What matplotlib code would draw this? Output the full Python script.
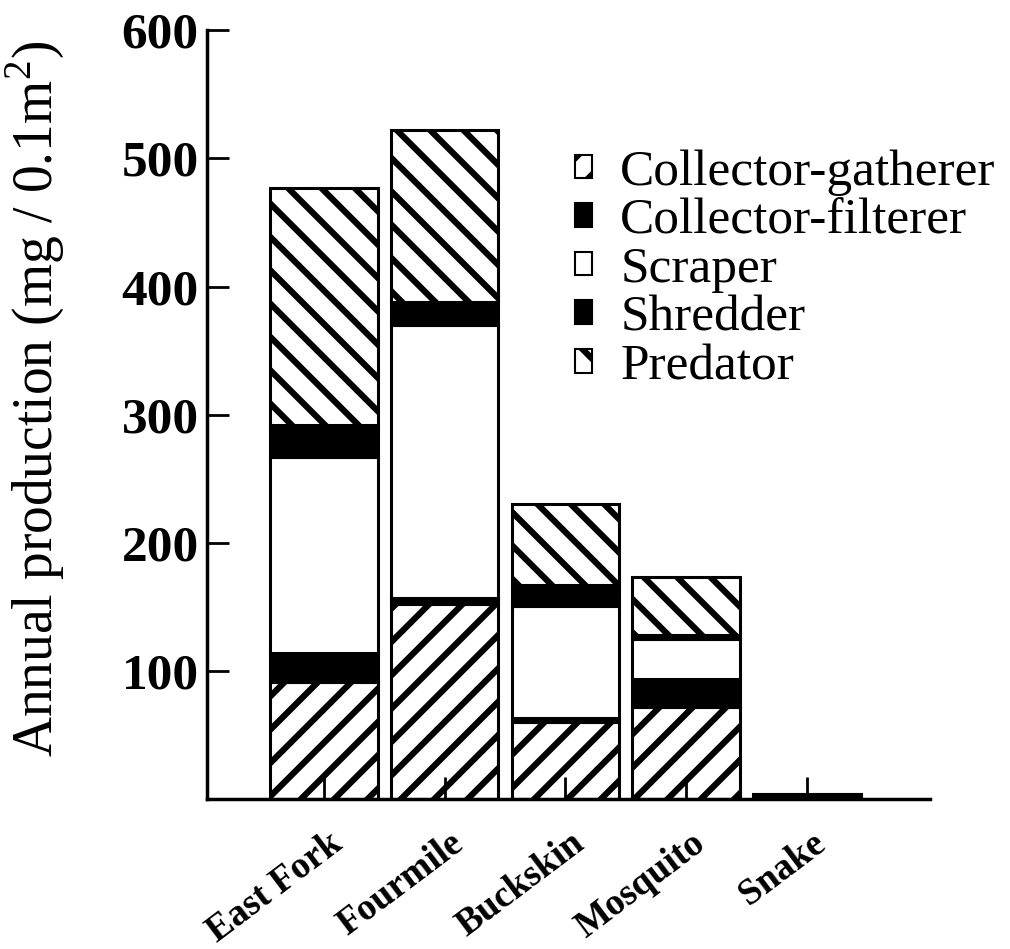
import matplotlib
matplotlib.use("Agg")
import matplotlib.pyplot as plt
import numpy as np

streams = ["East Fork", "Fourmile", "Buckskin", "Mosquito", "Snake"]
groups = ["Collector-gatherer", "Collector-filterer", "Scraper", "Shredder", "Predator"]
collector_gatherer = [91, 152, 60, 72, 0]
collector_filterer = [23, 5, 3, 22, 2]
scraper = [153, 213, 88, 31, 0]
shredder = [25, 18, 16, 3, 2]
predator = [185, 134, 63, 45, 0]
yticks = [100, 200, 300, 400, 500, 600]

plt.rcParams['font.family'] = ['Liberation Serif', 'DejaVu Serif']
plt.rcParams['mathtext.fontset'] = 'custom'
plt.rcParams['mathtext.rm'] = 'Liberation Serif'
plt.rcParams['hatch.linewidth'] = 4.5

fig = plt.figure(figsize=(10.10, 9.49), dpi=100)
ax = fig.add_axes([0.205, 0.158, 0.716, 0.810])

series = [collector_gatherer, collector_filterer, scraper, shredder, predator]
faces = ['white', 'black', 'white', 'black', 'white']
hatches = ['/', None, None, None, '\\']
x = np.arange(1, len(streams) + 1)
bottom = np.zeros(len(streams))
for vals, fc, h, name in zip(series, faces, hatches, groups):
    ax.bar(x, vals, width=0.89, bottom=bottom, color=fc, edgecolor='black',
           linewidth=2.2, hatch=h, label=name, zorder=2)
    bottom += np.array(vals)

ax.set_axisbelow(False)
ax.set_xlim(0.033, 6.02)
ax.set_ylim(0, 600)
ax.spines['top'].set_visible(False)
ax.spines['right'].set_visible(False)
ax.spines['left'].set_linewidth(2.5)
ax.spines['bottom'].set_linewidth(2.5)

ax.set_yticks(yticks)
ax.set_yticklabels([str(v) for v in yticks], fontsize=37, fontweight='bold')
ax.tick_params(axis='y', direction='in', length=16, width=2, pad=6)
ax.set_xticks(x)
ax.set_xticklabels([])
ax.tick_params(axis='x', direction='in', length=16, width=2)
for xi, name in zip(x, streams):
    ax.annotate(name, xy=(xi, 0), xycoords='data', xytext=(3, -19), textcoords='offset points',
                rotation=37, ha='right', va='top', rotation_mode='anchor',
                fontsize=27, fontweight='bold')

ax.set_ylabel("Annual production (mg / 0.1m$^2$)", fontsize=40)
ax.yaxis.set_label_coords(-0.194, 0.52)

leg = ax.legend(loc='upper left', bbox_to_anchor=(0.509, 0.845), frameon=False,
                fontsize=37, handlelength=0.33, handleheight=0.33, handletextpad=0.55,
                labelspacing=0.04, borderpad=0, borderaxespad=0)
for p in leg.get_patches():
    p.set_linewidth(1.5)

fig.savefig("out.png", dpi=100)
